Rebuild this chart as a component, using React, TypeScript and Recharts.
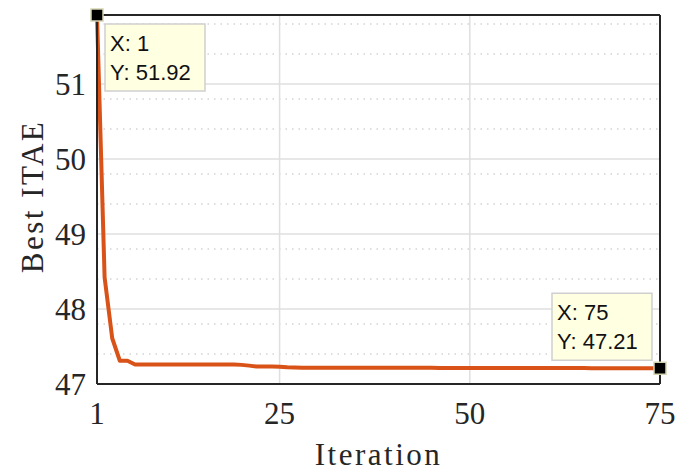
import { LineChart, Line, XAxis, YAxis, CartesianGrid, Label } from "recharts";

const iteration = [
  1, 2, 3, 4, 5, 6, 7, 8, 9, 10, 11, 12, 13, 14, 15, 16, 17, 18, 19, 20, 21, 22, 23, 24, 25,
  26, 27, 28, 29, 30, 31, 32, 33, 34, 35, 36, 37, 38, 39, 40, 41, 42, 43, 44, 45, 46, 47, 48, 49, 50,
  51, 52, 53, 54, 55, 56, 57, 58, 59, 60, 61, 62, 63, 64, 65, 66, 67, 68, 69, 70, 71, 72, 73, 74, 75,
];

const bestItae = [
  51.92, 48.42, 47.61, 47.31, 47.31, 47.26, 47.26, 47.26, 47.26, 47.26,
  47.26, 47.26, 47.26, 47.26, 47.26, 47.26, 47.26, 47.26, 47.26, 47.255,
  47.245, 47.232, 47.232, 47.232, 47.23, 47.222, 47.22, 47.218, 47.218, 47.218,
  47.218, 47.218, 47.218, 47.218, 47.218, 47.216, 47.216, 47.216, 47.216, 47.216,
  47.216, 47.216, 47.216, 47.216, 47.216, 47.214, 47.214, 47.214, 47.214, 47.214,
  47.214, 47.214, 47.214, 47.214, 47.214, 47.212, 47.212, 47.212, 47.212, 47.212,
  47.212, 47.212, 47.212, 47.212, 47.212, 47.21, 47.21, 47.21, 47.21, 47.21,
  47.21, 47.21, 47.21, 47.21, 47.21,
];

const xTicks = [1, 25, 50, 75];
const yTicks = [47, 48, 49, 50, 51];
const yMinorTicks = [
  47, 47.2, 47.4, 47.6, 47.8, 48, 48.2, 48.4, 48.6, 48.8, 49, 49.2, 49.4, 49.6, 49.8,
  50, 50.2, 50.4, 50.6, 50.8, 51, 51.2, 51.4, 51.6, 51.8,
];
const gridX = [25, 50];
const gridY = [48, 49, 50, 51];
const gridMinorY = [
  47.2, 47.4, 47.6, 47.8, 48.2, 48.4, 48.6, 48.8, 49.2, 49.4, 49.6, 49.8,
  50.2, 50.4, 50.6, 50.8, 51.2, 51.4, 51.6, 51.8,
];

const data = iteration.map((it, i) => ({ it, v: bestItae[i] }));

const AXIS = "#262626";
const SERIF = "'Liberation Serif', 'DejaVu Serif', serif";
const SANS = "'Liberation Sans', Arial, sans-serif";

function XTick({ x, y, payload }: any) {
  return (
    <text x={x} y={y + 40} textAnchor="middle" fontFamily={SERIF} fontSize={31} fill={AXIS}>
      {payload.value}
    </text>
  );
}

function YTick({ x, y, payload }: any) {
  return (
    <text x={x - 11} y={y + 11} textAnchor="end" fontFamily={SERIF} fontSize={31} fill={AXIS}>
      {payload.value}
    </text>
  );
}

function XLabel({ viewBox }: any) {
  return (
    <text
      x={viewBox.x + viewBox.width / 2}
      y={viewBox.y + 81}
      textAnchor="middle"
      fontFamily={SERIF}
      fontSize={31}
      letterSpacing={2.5}
      fill={AXIS}
    >
      Iteration
    </text>
  );
}

function YLabel({ viewBox }: any) {
  const cx = 43;
  const cy = viewBox.y + viewBox.height / 2 - 3;
  return (
    <text
      x={cx}
      y={cy}
      transform={`rotate(-90, ${cx}, ${cy})`}
      textAnchor="middle"
      fontFamily={SERIF}
      fontSize={31}
      letterSpacing={2.5}
      fill={AXIS}
    >
      Best ITAE
    </text>
  );
}

// MATLAB style data tips on the first and last points
function DataTip(props: any) {
  const { cx, cy, index, payload } = props;
  const last = index === data.length - 1;
  if (index !== 0 && !last) return <g key={index} />;
  const w = 100;
  const h = 67;
  const bx = last ? cx - 8 - w : cx + 8;
  const by = last ? cy - 8 - h : cy + 9;
  return (
    <g key={index}>
      <rect x={bx} y={by} width={w} height={h} fill="#FFFFE1" stroke="#CFCFCF" strokeWidth={1.5} />
      <text x={bx + 5} y={by + 27} fontFamily={SANS} fontSize={22} fill="#111">
        X: {payload.it}
      </text>
      <text x={bx + 5} y={by + 56} fontFamily={SANS} fontSize={22} fill="#111">
        Y: {payload.v.toFixed(2)}
      </text>
      <rect x={cx - 6} y={cy - 6} width={12} height={12} fill="#000" stroke="#D6D6B4" strokeWidth={1.5} />
    </g>
  );
}

export default function App() {
  return (
    <div style={{ position: "absolute", left: 0, top: 0, background: "#fff" }}>
      <LineChart
        width={675}
        height={474}
        data={data}
        margin={{ top: 15, right: 15, bottom: 0, left: 0 }}
      >
        <CartesianGrid
          horizontalValues={gridMinorY}
          vertical={false}
          stroke="#BDBDBD"
          strokeDasharray="1.5 5"
        />
        <CartesianGrid
          horizontalValues={gridY}
          verticalValues={gridX}
          stroke="#DFDFDF"
          strokeWidth={1.5}
        />
        <XAxis
          dataKey="it"
          type="number"
          domain={[1, 75]}
          ticks={xTicks}
          height={90}
          tickSize={0}
          tickMargin={0}
          tickLine={false}
          axisLine={{ stroke: AXIS, strokeWidth: 2 }}
          tick={XTick}
        >
          <Label content={XLabel} />
        </XAxis>
        <XAxis
          xAxisId="xmin"
          dataKey="it"
          type="number"
          domain={[1, 75]}
          allowDataOverflow
          ticks={xTicks}
          mirror
          tickSize={5}
          axisLine={false}
          tickLine={{ stroke: AXIS, strokeWidth: 1.5 }}
          tick={false}
        />
        <XAxis
          xAxisId="top"
          orientation="top"
          dataKey="it"
          type="number"
          domain={[1, 75]}
          allowDataOverflow
          ticks={xTicks}
          mirror
          tickSize={5}
          axisLine={{ stroke: AXIS, strokeWidth: 2 }}
          tickLine={{ stroke: AXIS, strokeWidth: 1.5 }}
          tick={false}
        />
        <YAxis
          type="number"
          domain={[47, 51.92]}
          ticks={yTicks}
          width={97}
          tickSize={0}
          tickMargin={0}
          tickLine={false}
          axisLine={{ stroke: AXIS, strokeWidth: 2 }}
          tick={YTick}
        >
          <Label content={YLabel} />
        </YAxis>
        <YAxis
          yAxisId="ymin"
          dataKey="v"
          type="number"
          domain={[47, 51.92]}
          allowDataOverflow
          ticks={yMinorTicks}
          mirror
          tickSize={5}
          axisLine={false}
          tickLine={{ stroke: AXIS, strokeWidth: 1.5 }}
          tick={false}
        />
        <YAxis
          yAxisId="right"
          orientation="right"
          dataKey="v"
          type="number"
          domain={[47, 51.92]}
          allowDataOverflow
          ticks={yMinorTicks}
          mirror
          tickSize={5}
          axisLine={{ stroke: AXIS, strokeWidth: 2 }}
          tickLine={{ stroke: AXIS, strokeWidth: 1.5 }}
          tick={false}
        />
        <Line
          dataKey="v"
          type="linear"
          stroke="#D95319"
          strokeWidth={4}
          strokeLinejoin="round"
          dot={DataTip}
          activeDot={false}
          isAnimationActive={false}
        />
      </LineChart>
    </div>
  );
}
